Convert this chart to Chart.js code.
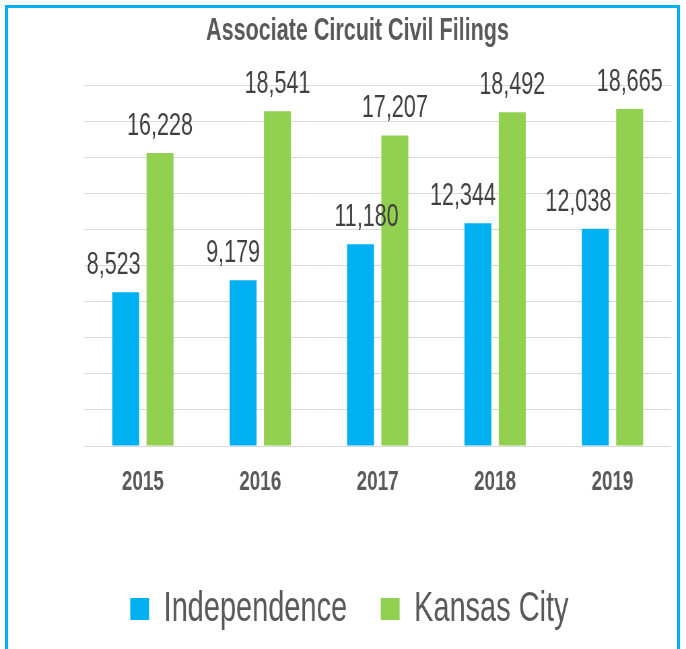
<!DOCTYPE html>
<html>
<head>
<meta charset="utf-8">
<script src="https://cdn.jsdelivr.net/npm/chart.js@4.4.1/dist/chart.umd.min.js"></script>
<style>
  html, body { margin: 0; padding: 0; background: #ffffff; overflow: hidden; }
  #wrap { position: relative; width: 686px; height: 649px; }
  #frame { position: absolute; left: 5px; top: 5px; width: 675px; height: 700px;
           box-sizing: border-box; border: 3px solid #00B0F0; pointer-events: none; }
  #c { position: absolute; left: 0; top: 0; }
</style>
</head>
<body>
<div id="wrap">
  <canvas id="c" width="1019" height="649" style="width:686px;height:649px;"></canvas>
  <div id="frame"></div>
</div>
<script>
const years = ['2015', '2016', '2017', '2018', '2019'];
const independence = [8523, 9179, 11180, 12344, 12038];
const kansasCity = [16228, 18541, 17207, 18492, 18665];
const seriesNames = ['Independence', 'Kansas City'];
const yMax = 20000;
const yStep = 2000;

// horizontal condensing factor (the reference text is narrow)
const SX = 686 / 1019;

const valueLabels = {
  id: 'valueLabels',
  afterDatasetsDraw(chart, args, opts) {
    const ctx = chart.ctx;
    ctx.save();
    ctx.font = '32px "Liberation Sans", Arial, sans-serif';
    ctx.fillStyle = '#404040';
    ctx.textAlign = 'center';
    ctx.textBaseline = 'alphabetic';
    chart.data.datasets.forEach((ds, di) => {
      const meta = chart.getDatasetMeta(di);
      const shifts = (opts.shifts && opts.shifts[di]) || [];
      meta.data.forEach((el, i) => {
        const v = ds.data[i];
        const dx = (shifts[i] || 0) / SX;
        ctx.fillText(v.toLocaleString('en-US'), el.x + dx, el.y - opts.gap);
      });
    });
    ctx.restore();
  }
};

// nudge the legend block horizontally (it sits a little left of the title centre)
const legendNudge = {
  id: 'legendNudge',
  afterLayout(chart, args, opts) {
    const lg = chart.legend;
    if (lg) { lg.left += opts.dx; lg.right += opts.dx; }
  }
};

const FONT = '"Liberation Sans", Arial, sans-serif';
Chart.defaults.font.family = FONT;

new Chart(document.getElementById('c'), {
  type: 'bar',
  data: {
    labels: years,
    datasets: [
      { label: seriesNames[0], data: independence, backgroundColor: '#00B0F0',
        categoryPercentage: 0.585, barPercentage: 0.785 },
      { label: seriesNames[1], data: kansasCity, backgroundColor: '#92D050',
        categoryPercentage: 0.585, barPercentage: 0.785 }
    ]
  },
  options: {
    responsive: false,
    animation: false,
    devicePixelRatio: 1,
    layout: { padding: { left: 65, right: 22, top: 0, bottom: 8.5 } },
    scales: {
      x: {
        grid: { display: false, drawTicks: false },
        border: { display: false },
        ticks: { color: '#595959', font: { size: 28, weight: 'bold' }, padding: 19 },
        afterFit: s => { s.height = 91.5; }
      },
      y: {
        min: 0, max: yMax,
        ticks: { display: false, stepSize: yStep },
        grid: { color: '#D9D9D9', lineWidth: 1, drawTicks: false },
        border: { display: false },
        afterFit: s => { s.width = 60; }
      }
    },
    plugins: {
      title: {
        display: true,
        text: 'Associate Circuit Civil Filings',
        color: '#595959',
        font: { size: 32, weight: 'bold' },
        padding: { top: 12, bottom: 34.6 }
      },
      legend: {
        position: 'bottom',
        labels: {
          color: '#595959',
          font: { size: 43 },
          boxWidth: 28,
          boxHeight: 22,
          padding: 50
        }
      },
      tooltip: { enabled: false },
      valueLabels: {
        gap: 18,
        shifts: [[-12, -10, 6, -15, -17], [0, 0, 0, 0, 0]]
      },
      legendNudge: { dx: -12 }
    }
  },
  plugins: [valueLabels, legendNudge]
});
</script>
</body>
</html>
